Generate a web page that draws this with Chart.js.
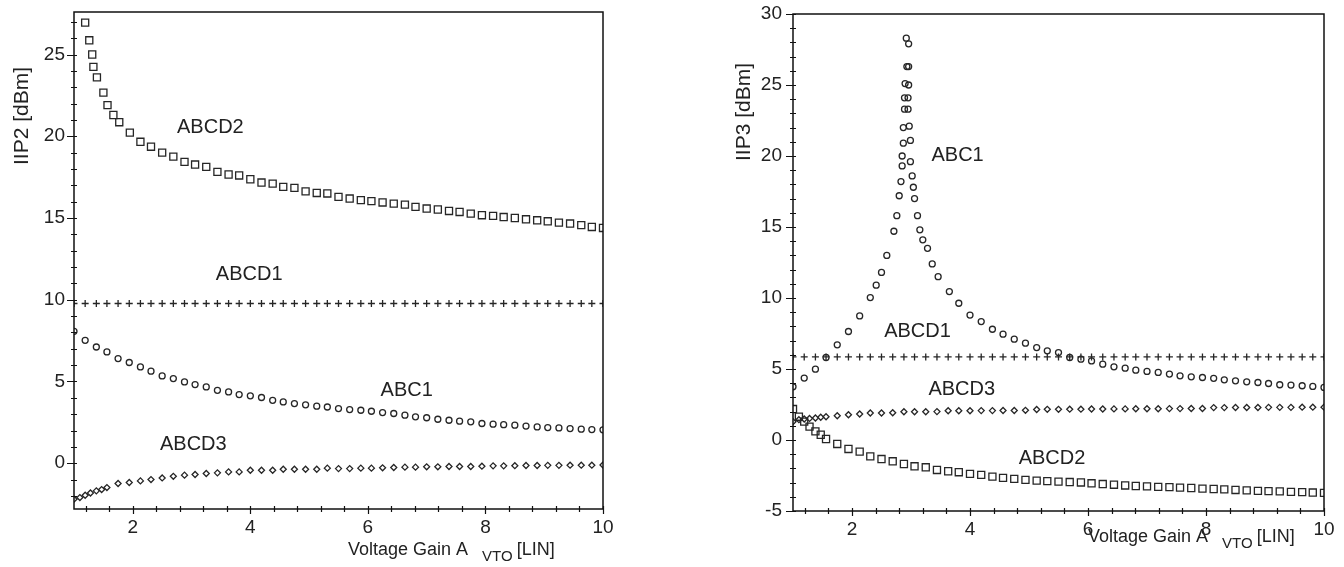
<!DOCTYPE html>
<html>
<head>
<meta charset="utf-8">
<script src="https://cdn.jsdelivr.net/npm/chart.js@4"></script>
<style>
  html, body { margin: 0; padding: 0; background: #fff; }
  #wrap { position: relative; width: 1344px; height: 567px; }
  #wrap canvas { position: absolute; top: 0; }
</style>
</head>
<body>
<div id="wrap">
  <canvas id="iip2Chart" width="672" height="567" style="left:0"></canvas>
  <canvas id="iip3Chart" width="672" height="567" style="left:672px"></canvas>
</div>
<script>
// shared gain grid (voltage gain A_VTO, linear)
const gainGrid = [1, 1.19, 1.38, 1.56, 1.75, 1.94, 2.13, 2.31, 2.5, 2.69, 2.88, 3.06, 3.25, 3.44, 3.63, 3.81, 4,
  4.19, 4.38, 4.56, 4.75, 4.94, 5.13, 5.31, 5.5, 5.69, 5.88, 6.06, 6.25, 6.44, 6.63, 6.81, 7, 7.19, 7.38, 7.56,
  7.75, 7.94, 8.13, 8.31, 8.5, 8.69, 8.88, 9.06, 9.25, 9.44, 9.63, 9.81, 10];

// ---- IIP2 (left) ----
const iip2ABCD1 = [9.77, 9.77, 9.77, 9.77, 9.77, 9.77, 9.77, 9.77, 9.77, 9.77, 9.77, 9.77, 9.77, 9.77, 9.77, 9.77, 9.77,
  9.77, 9.77, 9.77, 9.77, 9.77, 9.77, 9.77, 9.77, 9.77, 9.77, 9.77, 9.77, 9.77, 9.77, 9.77, 9.77, 9.77, 9.77, 9.77,
  9.77, 9.77, 9.77, 9.77, 9.77, 9.77, 9.77, 9.77, 9.77, 9.77, 9.77, 9.77, 9.77];
const iip2ABC1 = [8.07, 7.52, 7.11, 6.81, 6.40, 6.16, 5.89, 5.63, 5.34, 5.18, 4.97, 4.81, 4.67, 4.46, 4.36, 4.20, 4.12,
  4.02, 3.85, 3.75, 3.65, 3.57, 3.49, 3.44, 3.34, 3.28, 3.24, 3.18, 3.10, 3.04, 2.94, 2.84, 2.78, 2.69, 2.63, 2.57,
  2.53, 2.43, 2.39, 2.36, 2.33, 2.27, 2.22, 2.18, 2.16, 2.12, 2.08, 2.06, 2.04];
const iip2ABCD2Gain = [1.19, 1.26, 1.31, 1.33, 1.39, 1.5, 1.57, 1.67, 1.77, 1.95, 2.13, 2.31, 2.5, 2.69, 2.88, 3.06,
  3.25, 3.44, 3.63, 3.81, 4, 4.19, 4.38, 4.56, 4.75, 4.94, 5.13, 5.31, 5.5, 5.69, 5.88, 6.06, 6.25, 6.44, 6.63, 6.81,
  7, 7.19, 7.38, 7.56, 7.75, 7.94, 8.13, 8.31, 8.5, 8.69, 8.88, 9.06, 9.25, 9.44, 9.63, 9.81, 10];
const iip2ABCD2 = [26.95, 25.87, 25.0, 24.24, 23.6, 22.67, 21.9, 21.3, 20.86, 20.22, 19.66, 19.36, 19.0, 18.75, 18.43,
  18.27, 18.13, 17.82, 17.66, 17.6, 17.37, 17.17, 17.1, 16.9, 16.84, 16.63, 16.53, 16.5, 16.29, 16.19, 16.09, 16.03,
  15.95, 15.88, 15.82, 15.68, 15.58, 15.52, 15.43, 15.37, 15.27, 15.17, 15.13, 15.06, 15.0, 14.92, 14.86, 14.8,
  14.72, 14.66, 14.56, 14.45, 14.39];
const iip2ABCD3Gain = [1, 1.1, 1.19, 1.28, 1.38, 1.47, 1.56, 1.75, 1.94, 2.13, 2.31, 2.5, 2.69, 2.88, 3.06, 3.25,
  3.44, 3.63, 3.81, 4, 4.19, 4.38, 4.56, 4.75, 4.94, 5.13, 5.31, 5.5, 5.69, 5.88, 6.06, 6.25, 6.44, 6.63, 6.81, 7,
  7.19, 7.38, 7.56, 7.75, 7.94, 8.13, 8.31, 8.5, 8.69, 8.88, 9.06, 9.25, 9.44, 9.63, 9.81, 10];
const iip2ABCD3 = [-2.2, -2.1, -1.96, -1.82, -1.69, -1.61, -1.49, -1.24, -1.18, -1.08, -1.0, -0.9, -0.8, -0.73,
  -0.69, -0.63, -0.59, -0.53, -0.53, -0.43, -0.43, -0.43, -0.37, -0.37, -0.37, -0.37, -0.3, -0.33, -0.33, -0.3,
  -0.3, -0.28, -0.26, -0.24, -0.24, -0.22, -0.22, -0.2, -0.2, -0.2, -0.18, -0.16, -0.16, -0.15, -0.14, -0.14,
  -0.13, -0.13, -0.12, -0.12, -0.12, -0.11];

// ---- IIP3 (right) ----
const iip3ABCD1 = [5.85, 5.85, 5.85, 5.85, 5.85, 5.85, 5.85, 5.85, 5.85, 5.85, 5.85, 5.85, 5.85, 5.85, 5.85, 5.85, 5.85,
  5.85, 5.85, 5.85, 5.85, 5.85, 5.85, 5.85, 5.85, 5.85, 5.85, 5.85, 5.85, 5.85, 5.85, 5.85, 5.85, 5.85, 5.85, 5.85,
  5.85, 5.85, 5.85, 5.85, 5.85, 5.85, 5.85, 5.85, 5.85, 5.85, 5.85, 5.85, 5.85];
const iip3ABC1Gain = [1, 1.19, 1.38, 1.56, 1.75, 1.94, 2.13, 2.31, 2.41, 2.5, 2.59, 2.71, 2.76, 2.8, 2.83, 2.85, 2.85,
  2.87, 2.87, 2.89, 2.89, 2.9, 2.93, 2.92, 2.96, 2.96, 2.96, 2.95, 2.95, 2.97, 2.99, 2.99, 3.02, 3.04, 3.06, 3.11,
  3.15, 3.2, 3.28, 3.36, 3.46, 3.65, 3.81, 4, 4.19, 4.38, 4.56, 4.75, 4.94, 5.13, 5.31, 5.5, 5.69, 5.88, 6.06, 6.25,
  6.44, 6.63, 6.81, 7, 7.19, 7.38, 7.56, 7.75, 7.94, 8.13, 8.31, 8.5, 8.69, 8.88, 9.06, 9.25, 9.44, 9.63, 9.81, 10];
const iip3ABC1 = [3.75, 4.36, 4.99, 5.81, 6.7, 7.64, 8.74, 10.03, 10.9, 11.8, 13.0, 14.7, 15.8, 17.2, 18.2, 19.3, 20.0,
  20.9, 22.0, 23.3, 24.1, 25.1, 26.3, 28.3, 27.9, 26.3, 25.0, 24.1, 23.3, 22.1, 21.1, 19.6, 18.6, 17.8, 17.0, 15.8,
  14.8, 14.1, 13.5, 12.4, 11.5, 10.45, 9.63, 8.8, 8.34, 7.8, 7.45, 7.1, 6.82, 6.51, 6.28, 6.16, 5.81, 5.69, 5.57, 5.34,
  5.15, 5.06, 4.92, 4.83, 4.76, 4.64, 4.52, 4.45, 4.4, 4.34, 4.24, 4.17, 4.1, 4.05, 3.98, 3.89, 3.87, 3.82, 3.77, 3.7];
const iip3LowGain = [1, 1.1, 1.19, 1.28, 1.38, 1.47, 1.56, 1.75, 1.94, 2.13, 2.31, 2.5, 2.69, 2.88, 3.06, 3.25,
  3.44, 3.63, 3.81, 4, 4.19, 4.38, 4.56, 4.75, 4.94, 5.13, 5.31, 5.5, 5.69, 5.88, 6.06, 6.25, 6.44, 6.63, 6.81, 7,
  7.19, 7.38, 7.56, 7.75, 7.94, 8.13, 8.31, 8.5, 8.69, 8.88, 9.06, 9.25, 9.44, 9.63, 9.81, 10];
const iip3ABCD3 = [1.29, 1.43, 1.48, 1.52, 1.55, 1.6, 1.64, 1.71, 1.78, 1.83, 1.9, 1.9, 1.92, 1.99, 1.99, 1.99, 2.0,
  2.06, 2.06, 2.06, 2.07, 2.07, 2.08, 2.08, 2.09, 2.15, 2.16, 2.16, 2.17, 2.17, 2.18, 2.18, 2.19, 2.19, 2.2, 2.2, 2.2,
  2.21, 2.21, 2.22, 2.22, 2.28, 2.28, 2.29, 2.29, 2.29, 2.3, 2.3, 2.3, 2.31, 2.31, 2.31];
const iip3ABCD2 = [2.18, 1.64, 1.29, 0.94, 0.61, 0.37, 0.07, -0.28, -0.63, -0.82, -1.15, -1.34, -1.5, -1.69, -1.85,
  -1.92, -2.11, -2.2, -2.27, -2.39, -2.46, -2.58, -2.67, -2.74, -2.81, -2.86, -2.9, -2.93, -2.96, -2.99, -3.05, -3.1,
  -3.15, -3.2, -3.24, -3.27, -3.3, -3.32, -3.35, -3.38, -3.42, -3.45, -3.48, -3.52, -3.55, -3.58, -3.6, -3.62,
  -3.65, -3.67, -3.7, -3.72];

// ticks
const xTicks = [1.2, 1.6, 2, 2.4, 2.8, 3.2, 3.6, 4, 4.4, 4.8, 5.2, 5.6, 6, 6.4, 6.8, 7.2, 7.6, 8, 8.4, 8.8, 9.2, 9.6, 10];
const xMajor = [2, 4, 6, 8, 10];
const iip2Major = [0, 5, 10, 15, 20, 25];
const iip3Major = [-5, 0, 5, 10, 15, 20, 25, 30];

const INK = '#262626';
const FONT = '"Liberation Sans", Arial, sans-serif';

function pts(xs, ys) {
  return xs.map((x, i) => ({ x: x, y: ys[i] }));
}

function markers(label, xs, ys, style, radius) {
  return {
    label: label,
    data: pts(xs, ys),
    showLine: false,
    pointStyle: style,
    pointRadius: radius,
    pointBorderWidth: 1.3,
    pointBorderColor: INK,
    pointBackgroundColor: 'rgba(0,0,0,0)',
    borderColor: INK
  };
}

function makeChart(canvasId, cfg) {
  const decor = {
    id: 'decor',
    afterDraw(chart) {
      const ctx = chart.ctx;
      const a = chart.chartArea;
      const xs = chart.scales.x;
      const ys = chart.scales.y;
      ctx.save();
      ctx.strokeStyle = '#111';
      ctx.lineWidth = 1.5;
      ctx.strokeRect(a.left, a.top, a.right - a.left, a.bottom - a.top);

      // tick marks crossing the axes, labelled ones longer
      ctx.lineWidth = 1.2;
      ctx.beginPath();
      ys.ticks.forEach(t => {
        const p = Math.round(ys.getPixelForValue(t.value)) + 0.5;
        const major = cfg.yMajor.includes(t.value);
        ctx.moveTo(a.left - (major ? 7 : 3), p);
        ctx.lineTo(a.left + 3, p);
      });
      xs.ticks.forEach(t => {
        const p = Math.round(xs.getPixelForValue(t.value)) + 0.5;
        const major = xMajor.includes(t.value);
        ctx.moveTo(p, a.bottom - 3);
        ctx.lineTo(p, a.bottom + (major ? 5 : 3));
      });
      ctx.stroke();

      // curve names
      ctx.fillStyle = '#222';
      ctx.font = '20px ' + FONT;
      ctx.textAlign = 'center';
      ctx.textBaseline = 'middle';
      cfg.names.forEach(n => {
        ctx.fillText(n.text, xs.getPixelForValue(n.x), ys.getPixelForValue(n.y));
      });

      // y title
      ctx.save();
      ctx.translate(cfg.yTitleAt[0], cfg.yTitleAt[1]);
      ctx.rotate(-Math.PI / 2);
      ctx.font = '21px ' + FONT;
      ctx.fillText(cfg.yTitle, 0, 0);
      ctx.restore();

      // x title with subscript
      ctx.textAlign = 'left';
      ctx.textBaseline = 'alphabetic';
      let tx = cfg.xTitleAt[0];
      const ty = cfg.xTitleAt[1];
      ctx.font = '18px ' + FONT;
      ctx.fillText('Voltage Gain A', tx, ty);
      tx += ctx.measureText('Voltage Gain A').width + 14;
      ctx.font = '15px ' + FONT;
      ctx.fillText('VTO', tx, ty + 6);
      tx += ctx.measureText('VTO').width + 4;
      ctx.font = '18px ' + FONT;
      ctx.fillText('[LIN]', tx, ty);
      ctx.restore();
    }
  };

  return new Chart(document.getElementById(canvasId), {
    type: 'scatter',
    data: { datasets: cfg.datasets },
    options: {
      responsive: false,
      animation: false,
      layout: { padding: { top: cfg.top, right: cfg.right, left: 0, bottom: 0 } },
      plugins: { legend: { display: false }, tooltip: { enabled: false } },
      scales: {
        x: {
          type: 'linear',
          min: 1,
          max: 10,
          afterBuildTicks: s => { s.ticks = xTicks.map(v => ({ value: v })); },
          afterFit: s => { s.height = cfg.xAxisHeight; s.paddingLeft = 0; s.paddingRight = 0; },
          grid: { display: false, drawTicks: false },
          border: { display: false },
          ticks: {
            autoSkip: false,
            maxRotation: 0,
            padding: 7,
            color: '#222',
            font: { family: FONT, size: 19 },
            callback: v => (xMajor.includes(v) ? String(v) : '')
          }
        },
        y: {
          type: 'linear',
          min: cfg.yMin,
          max: cfg.yMax,
          afterBuildTicks: s => {
            const t = [];
            for (let v = Math.ceil(cfg.yMin); v <= cfg.yMax; v++) t.push({ value: v });
            s.ticks = t;
          },
          afterFit: s => { s.width = cfg.yAxisWidth; s.paddingTop = 0; s.paddingBottom = 0; },
          grid: { display: false, drawTicks: false },
          border: { display: false },
          ticks: {
            autoSkip: false,
            padding: cfg.yPad,
            color: '#222',
            font: { family: FONT, size: 19 },
            callback: v => (cfg.yMajor.includes(v) ? String(v) : '')
          }
        }
      }
    },
    plugins: [decor]
  });
}

makeChart('iip2Chart', {
  datasets: [
    markers('ABCD2', iip2ABCD2Gain, iip2ABCD2, 'rect', 5),
    markers('ABCD1', gainGrid, iip2ABCD1, 'cross', 3.5),
    markers('ABC1', gainGrid, iip2ABC1, 'circle', 3),
    markers('ABCD3', iip2ABCD3Gain, iip2ABCD3, 'rectRot', 3)
  ],
  yMin: -2.8,
  yMax: 27.6,
  yMajor: iip2Major,
  top: 12,
  right: 69,
  yAxisWidth: 74,
  xAxisHeight: 58,
  yPad: 9,
  yTitle: 'IIP2 [dBm]',
  yTitleAt: [22, 116],
  xTitleAt: [348, 555],
  names: [
    { text: 'ABCD2', x: 3.32, y: 20.52 },
    { text: 'ABCD1', x: 3.98, y: 11.53 },
    { text: 'ABC1', x: 6.66, y: 4.43 },
    { text: 'ABCD3', x: 3.03, y: 1.13 }
  ]
});

makeChart('iip3Chart', {
  datasets: [
    markers('ABC1', iip3ABC1Gain, iip3ABC1, 'circle', 3),
    markers('ABCD1', gainGrid, iip3ABCD1, 'cross', 3.5),
    markers('ABCD3', iip3LowGain, iip3ABCD3, 'rectRot', 3),
    markers('ABCD2', iip3LowGain, iip3ABCD2, 'rect', 5)
  ],
  yMin: -5,
  yMax: 30,
  yMajor: iip3Major,
  top: 14,
  right: 20,
  yAxisWidth: 121,
  xAxisHeight: 56,
  yPad: 11,
  yTitle: 'IIP3 [dBm]',
  yTitleAt: [72, 112],
  xTitleAt: [416, 542],
  names: [
    { text: 'ABC1', x: 3.79, y: 20.03 },
    { text: 'ABCD1', x: 3.11, y: 7.62 },
    { text: 'ABCD3', x: 3.86, y: 3.55 },
    { text: 'ABCD2', x: 5.39, y: -1.3 }
  ]
});
</script>
</body>
</html>
